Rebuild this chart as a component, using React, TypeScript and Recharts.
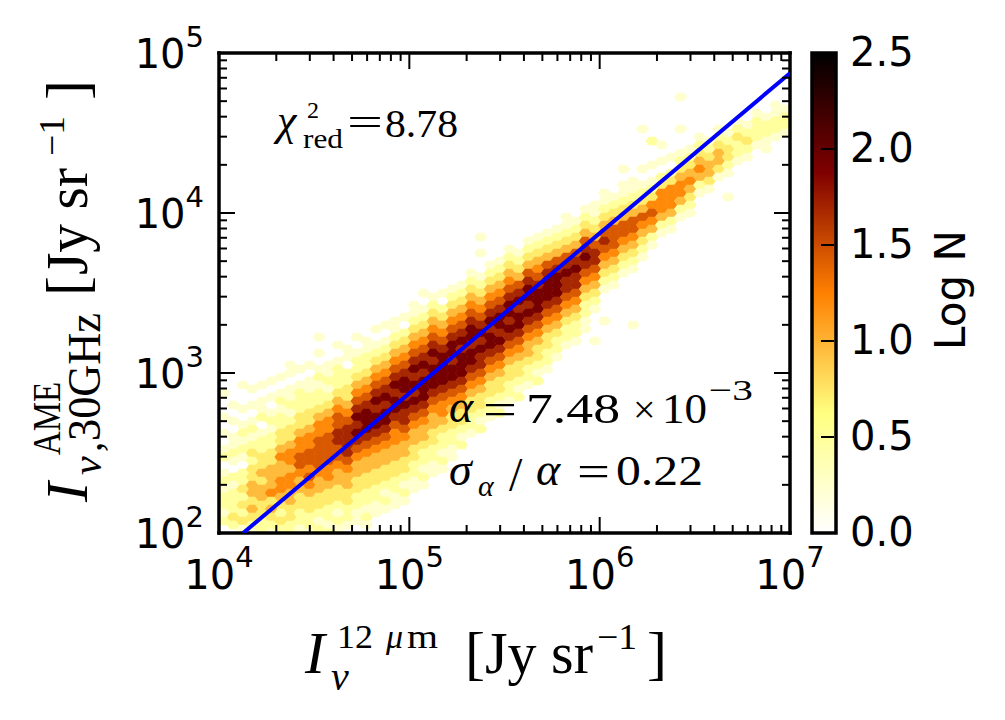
import React from 'react';
import { ScatterChart, Scatter, XAxis, YAxis, ReferenceArea } from 'recharts';

// Hexbin density.
// One string per x-bin (0.05 dex wide, starting at 1e4), read from top to bottom.
// COL_TOP[c] is the first y-bin of the string, counted down from 1e5 in 0.05 dex steps.
// '.' = empty bin, digit d = log N of about d * LEVEL_STEP
const COL_TOP = [
  42, 42, 41, 41, 40, 40, 39, 39, 38, 38,
  37, 37, 36, 36, 35, 35, 34, 33, 33, 32,
  31, 31, 30, 29, 29, 28, 27, 27, 26, 25,
  24, 24, 23, 22, 22, 21, 20, 20, 19, 18,
  17, 17, 16, 15, 14, 13, 13, 12, 12, 11,
  10, 10, 9, 9, 8, 8, 7, 7, 6, 6,
];

const COL_LEVELS = [
  '1..1.1.12.1212212.',
  '.1.1.1121.2122232.',
  '1..1.12121.22323231',
  '1.1.121232334434321',
  '.1.112.1223343443322',
  '1.1.1212233444534321',
  '.1.121223345445543232',
  '1.1121233455455443322',
  '.1.1222334556654433221',
  '1.11223345566565433221',
  '1.121223455666654433212',
  '.1121234556666554332212',
  '1.1222345667766544332121',
  '11.22334567777654433221',
  '1.1223456787876544332211',
  '112234567888765443322121',
  '1.1234567878876544332211',
  '1.1234567878876544332121',
  '112345678788765544332211',
  '1.2345678878776544332121',
  '112345678787876544332211',
  '12345678788876544322121',
  '12345678788876544332211',
  '1.234567888876554322121',
  '1234567887887654332211',
  '123456787888765433212',
  '123456788788765433221',
  '12345678787765433212',
  '12345678788765433221',
  '12345678878765433212',
  '12345678878765433221',
  '1234678788765433212',
  '1234678878765443221',
  '1234567888765433212',
  '123467888765433221',
  '12346788876543221',
  '11234678776543221',
  '1234678776543221',
  '123467876543221',
  '11234677654321',
  '1123467654321',
  '123466654321',
  '112346654321',
  '112346654321',
  '1.1234654321',
  '1.123565421',
  '1.23555421',
  '1.23555421',
  '123455421',
  '123454321',
  '12345421',
  '1234431',
  '1234431',
  '123321',
  '123221',
  '12321',
  '12221',
  '12211',
  '11221',
  '1221',
];

// isolated faint bins away from the main band: [x-bin, y-bin, level]
const OUTLIERS: [number, number, number][] = [
  [48, 5, 1], [44, 9, 1], [45, 10, 2], [48, 9, 1], [46, 11, 1], [42, 14, 1],
  [53, 17, 1], [27, 22, 1], [27, 24, 1], [21, 29, 1], [10, 35, 1], [7, 38, 1],
  [43, 33, 1], [40, 33, 1], [39, 35, 1], [38, 34, 1],
];

const X_MAJOR = [1e4, 1e5, 1e6, 1e7];
const Y_MAJOR = [1e2, 1e3, 1e4, 1e5];
const MINOR_STEPS = [2, 3, 4, 5, 6, 7, 8, 9];
const CBAR_TICKS = [0, 0.5, 1, 1.5, 2, 2.5];
const CBAR_MAX = 2.5;

// fitted relation I_AME = 7.48e-3 * I_12um, ends read at the frame edges
const FIT_LINE = [
  { x: 1.34e4, y: 100 },
  { x: 1e7, y: 7.48e4 },
];

const BIN = 0.05;
const LEVEL_STEP = 0.24;

const W = 989;
const H = 700;
const SANS = 'DejaVu Sans';
const SERIF = 'Liberation Serif';

const withMinor = (majors: number[]) =>
  majors.flatMap((d, i) => (i < majors.length - 1 ? [d, ...MINOR_STEPS.map((m) => m * d)] : [d]));
const X_TICKS = withMinor(X_MAJOR);
const Y_TICKS = withMinor(Y_MAJOR);

function binCell(c: number, r: number, d: number) {
  const lx = 4 + (c + 0.5) * BIN;
  const ly = 5 - (r + 0.5 + (c % 2) * 0.5) * BIN;
  return { x: Math.pow(10, lx), y: Math.pow(10, ly), logN: d * LEVEL_STEP };
}

const cells: { x: number; y: number; logN: number }[] = [];
COL_LEVELS.forEach((s, c) => {
  s.split('').forEach((ch, i) => {
    if (ch !== '.') cells.push(binCell(c, COL_TOP[c] + i, Number(ch)));
  });
});
OUTLIERS.forEach(([c, r, d]) => cells.push(binCell(c, r, d)));

// matplotlib afmhot_r
const clamp = (v: number) => Math.min(1, Math.max(0, v));
function afmhotR(logN: number) {
  const s = 1 - clamp(logN / CBAR_MAX);
  const r = clamp(2 * s), g = clamp(2 * s - 0.5), b = clamp(2 * s - 1);
  return `rgb(${Math.round(r * 255)},${Math.round(g * 255)},${Math.round(b * 255)})`;
}

function Hex(props: any) {
  const { cx, cy, payload } = props;
  if (cx == null || cy == null) return <g />;
  const hw = 6.5, qw = 3.3, hh = 4.2;
  const pts = [
    [cx - hw, cy], [cx - qw, cy - hh], [cx + qw, cy - hh],
    [cx + hw, cy], [cx + qw, cy + hh], [cx - qw, cy + hh],
  ].map((p) => p.join(',')).join(' ');
  return <polygon points={pts} fill={afmhotR(payload.logN)} />;
}

const exp10 = (v: number) => Math.round(Math.log10(v));

function BottomTick({ x, y, payload }: any) {
  const major = X_MAJOR.includes(payload.value);
  return (
    <g>
      <line x1={x} y1={y} x2={x} y2={y - (major ? 16 : 8)} stroke="#000" strokeWidth={2} />
      {major && (
        <text x={x} y={y + 56} textAnchor="middle" fontFamily={SANS} fontSize={40} fill="#000">
          10<tspan fontSize={29} dy={-22}>{exp10(payload.value)}</tspan>
        </text>
      )}
    </g>
  );
}

function TopTick({ x, y, payload }: any) {
  const major = X_MAJOR.includes(payload.value);
  return <line x1={x} y1={y} x2={x} y2={y + (major ? 16 : 8)} stroke="#000" strokeWidth={2} />;
}

function LeftTick({ x, y, payload }: any) {
  const major = Y_MAJOR.includes(payload.value);
  return (
    <g>
      <line x1={x} y1={y} x2={x + (major ? 16 : 8)} y2={y} stroke="#000" strokeWidth={2} />
      {major && (
        <text x={x - 15} y={y + 15} textAnchor="end" fontFamily={SANS} fontSize={40} fill="#000">
          10<tspan fontSize={29} dy={-21}>{exp10(payload.value)}</tspan>
        </text>
      )}
    </g>
  );
}

function RightTick({ x, y, payload }: any) {
  const major = Y_MAJOR.includes(payload.value);
  return <line x1={x} y1={y} x2={x - (major ? 16 : 8)} y2={y} stroke="#000" strokeWidth={2} />;
}

function CbarTick({ x, y, payload }: any) {
  return (
    <g>
      <line x1={x - 2} y1={y} x2={x - 15} y2={y} stroke="#000" strokeWidth={2} />
      <text x={x + 14} y={y + 13} fontFamily={SANS} fontSize={40} fill="#000">
        {payload.value.toFixed(1)}
      </text>
    </g>
  );
}

const MARGIN = { top: 35, right: W - 782 - 10, bottom: H - 525 - 30, left: 151 };
const spine = { stroke: '#000', strokeWidth: 3.5, strokeLinecap: 'square' as const };

function axesFor(draw: boolean) {
  const common = { type: 'number' as const, scale: 'log' as const, allowDataOverflow: true, interval: 0 as const, tickSize: 0, tickMargin: 0, tickLine: false };
  return [
    <XAxis key="xb" xAxisId="b" orientation="bottom" dataKey="x" domain={[1e4, 1e7]} ticks={X_TICKS} height={30}
      {...common} axisLine={draw ? spine : false} tick={draw ? (p: any) => <BottomTick {...p} /> : false} />,
    <XAxis key="xt" xAxisId="t" orientation="top" dataKey="x" domain={[1e4, 1e7]} ticks={X_TICKS} height={10}
      {...common} axisLine={draw ? spine : false} tick={draw ? (p: any) => <TopTick {...p} /> : false} />,
    <YAxis key="yl" yAxisId="l" orientation="left" dataKey="y" domain={[1e2, 1e5]} ticks={Y_TICKS} width={60}
      {...common} axisLine={draw ? spine : false} tick={draw ? (p: any) => <LeftTick {...p} /> : false} />,
    <YAxis key="yr" yAxisId="r" orientation="right" dataKey="y" domain={[1e2, 1e5]} ticks={Y_TICKS} width={10}
      {...common} axisLine={draw ? spine : false} tick={draw ? (p: any) => <RightTick {...p} /> : false} />,
  ];
}

const layer: React.CSSProperties = { position: 'absolute', left: 0, top: 0 };

function T({ x, y, size, italic, len, children, rot }: any) {
  const common = {
    fontFamily: SERIF,
    fontSize: size,
    fontStyle: italic ? 'italic' : 'normal',
    fill: '#000',
    ...(len ? { textLength: len, lengthAdjust: 'spacingAndGlyphs' } : {}),
  };
  if (rot) {
    return <text {...common} transform={`translate(${x},${y}) rotate(-90)`}>{children}</text>;
  }
  return <text {...common} x={x} y={y}>{children}</text>;
}

export default function App() {
  return (
    <div style={{ position: 'relative', width: W, height: H }}>
      {/* density */}
      <div style={layer}>
        <ScatterChart width={W} height={H} margin={MARGIN}>
          {axesFor(false)}
          <Scatter xAxisId="b" yAxisId="l" data={cells} shape={Hex} isAnimationActive={false} />
        </ScatterChart>
      </div>

      {/* colour bar */}
      <div style={layer}>
        <ScatterChart width={W} height={H} margin={{ top: 45, right: W - 828 - 60, bottom: H - 525 - 10, left: 804 }}>
          <XAxis xAxisId="c" type="number" dataKey="x" domain={[0, 1]} allowDataOverflow height={10} tick={false} axisLine={false} tickLine={false} />
          <YAxis yAxisId="c" orientation="right" type="number" dataKey="v" domain={[0, CBAR_MAX]} allowDataOverflow
            ticks={CBAR_TICKS} interval={0} width={60} tickSize={0} tickMargin={0} tickLine={false} axisLine={false}
            tick={(p: any) => <CbarTick {...p} />} />
          <ReferenceArea xAxisId="c" yAxisId="c" x1={0} x2={1} y1={0} y2={CBAR_MAX}
            fill="url(#afmhotR)" fillOpacity={1} stroke="#000" strokeWidth={3.5} ifOverflow="visible" />
        </ScatterChart>
      </div>

      {/* frame, ticks and fitted line */}
      <div style={layer}>
        <ScatterChart width={W} height={H} margin={MARGIN}>
          {axesFor(true)}
          <Scatter xAxisId="b" yAxisId="l" data={FIT_LINE} line={{ stroke: '#0000ff', strokeWidth: 4 }}
            shape={() => <g />} isAnimationActive={false} />
        </ScatterChart>
      </div>

      {/* labels, page coordinates */}
      <svg style={{ position: 'absolute', left: -8, top: -8 }} width={1000} height={712}>
        <defs>
          <linearGradient id="afmhotR" x1="0" y1="1" x2="0" y2="0">
            {[0, 0.25, 0.5, 0.75, 1].map((t) => (
              <stop key={t} offset={t} stopColor={afmhotR(t * CBAR_MAX)} />
            ))}
          </linearGradient>
        </defs>

        {/* chi^2_red = 8.78 */}
        <T x={277} y={135} size={44} italic>χ</T>
        <T x={307} y={118} size={24}>2</T>
        <T x={303} y={148} size={28} len={40}>red</T>
        <T x={347} y={136} size={40} len={36}>=</T>
        <T x={385} y={137} size={40} len={73}>8.78</T>

        {/* alpha = 7.48 x 10^-3 */}
        <T x={449} y={422} size={46} italic>α</T>
        <T x={483} y={424} size={44} len={34}>=</T>
        <T x={526} y={423} size={43} len={94}>7.48</T>
        <T x={633} y={423} size={40}>×</T>
        <T x={662} y={423} size={43} len={45}>10</T>
        <T x={709} y={400} size={30} len={44}>−3</T>

        {/* sigma_alpha / alpha = 0.22 */}
        <T x={449} y={485} size={46} italic>σ</T>
        <T x={478} y={496} size={30} italic>α</T>
        <T x={509} y={491} size={48}>/</T>
        <T x={536} y={485} size={46} italic>α</T>
        <T x={577} y={486} size={44} len={33}>=</T>
        <T x={616} y={485} size={43} len={87}>0.22</T>

        {/* x title */}
        <T x={305} y={673} size={60} italic>I</T>
        <T x={331} y={690} size={40} italic>ν</T>
        <T x={337} y={648} size={34} len={36}>12</T>
        <T x={386} y={648} size={34} italic>μ</T>
        <T x={407} y={648} size={34} len={31}>m</T>
        <T x={465} y={673} size={60}>[</T>
        <T x={485} y={673} size={60} len={108}>Jy sr</T>
        <T x={597} y={649} size={36} len={40}>−1</T>
        <T x={647} y={673} size={60}>]</T>

        {/* y title, rotated: x = baseline, y = start of the run */}
        <T rot x={87} y={502} size={60} italic>I</T>
        <T rot x={60} y={455} size={40} len={73}>AME</T>
        <T rot x={101} y={475} size={42} italic>ν</T>
        <T rot x={101} y={452} size={42}>,</T>
        <T rot x={100} y={441} size={46} len={128}>30GHz</T>
        <T rot x={87} y={296} size={60}>[</T>
        <T rot x={87} y={275} size={60} len={107}>Jy sr</T>
        <T rot x={64} y={156} size={36} len={40}>−1</T>
        <T rot x={87} y={100} size={60}>]</T>

        {/* colour bar label */}
        <text transform="translate(965,290) rotate(-90)" textAnchor="middle" fontFamily={SANS} fontSize={42} fill="#000">
          Log N
        </text>
      </svg>
    </div>
  );
}
